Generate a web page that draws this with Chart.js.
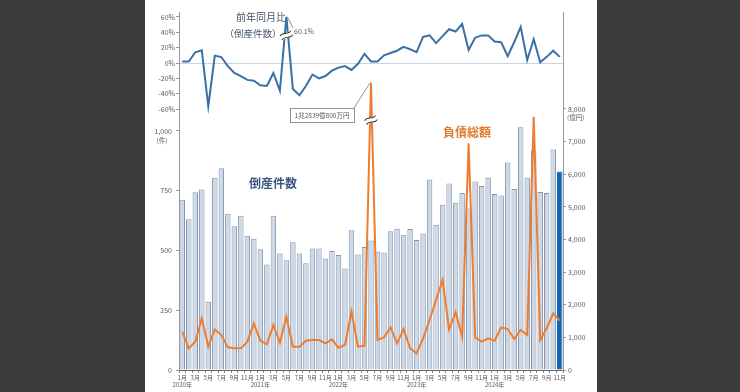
<!DOCTYPE html>
<html>
<head>
<meta charset="utf-8">
<script src="https://cdn.jsdelivr.net/npm/chart.js@4.4.0/dist/chart.umd.min.js"></script>
<style>
html,body{margin:0;padding:0;background:#3c3c3c;}
#panel{position:absolute;left:145px;top:0;width:452px;height:392px;background:#fff;}
</style>
</head>
<body>
<div id="panel"><canvas id="chart" width="452" height="392"></canvas></div>
<script>
const years=["2020年","2021年","2022年","2023年","2024年"];
const months=["1月","2月","3月","4月","5月","6月","7月","8月","9月","10月","11月","12月"];
const monthsInLastYear=11;

// 倒産件数 (件)
const counts=[712,631,743,755,285,804,844,654,601,645,562,549,
  505,441,645,487,459,534,487,446,508,508,466,498,
  481,425,584,483,514,542,495,491,580,591,566,590,
  544,571,797,608,691,780,700,740,675,788,770,804,
  736,730,868,757,1015,804,918,744,740,922,830];
// 負債総額 (億円) 2022年6月 is drawn shortened (actual 1兆2839億800万円)
const debt=[1174,664,868,1583,715,1246,1072,694,664,664,868,1430,
  899,786,1379,837,1634,715,715,899,919,919,817,940,
  684,766,1787,715,740,8800,919,1001,1307,817,1256,664,
  511,970,1532,2145,2758,1246,1767,1021,6950,1000,868,970,
  899,1307,1256,950,1226,1072,7760,919,1277,1736,1511];
// 前年同月比 (倒産件数) %
const yoy=[2,2,14,16.5,-56.5,9.6,7.8,-4,-13,-17,-22,-23,
  -29,-30,-13,-36,60.1,-34,-42,-30,-15,-20,-17,-10,
  -6,-4,-9,-1,12,2,2,10,13,16,21,18,
  14,34,36,26,35,44,41,51,17,33,36,36,
  28,27,9,27,47,4,31,1,8,16,8];

const yoyTicks=[-60,-40,-20,0,20,40,60];
const countTicks=[0,250,500,750,1000];
const debtTicks=[0,1000,2000,3000,4000,5000,6000,7000,8000];

const labels=[];
years.forEach((y,yi)=>{
    months.forEach((m,mi)=>{
        if(yi===years.length-1 && mi>=monthsInLastYear) return;
        labels.push(y+m);
    });
});

const FONT='"Noto Sans CJK JP","Noto Sans",sans-serif';
const GRAY='#595959';

function tickLabel(i){
    const m=i%12;
    if(m%2===1) return "";
    if(m===0) return [months[m],years[Math.floor(i/12)]];
    return months[m];
}

function breakMark(ctx,x,y){
    ctx.save();
    ctx.translate(x,y);
    ctx.rotate(-0.45);
    ctx.fillStyle="#fff";
    ctx.fillRect(-6,-2.5,12,5);
    ctx.strokeStyle="#333";
    ctx.lineWidth=1;
    [-2.2,2.2].forEach(o=>{
        ctx.beginPath();
        ctx.moveTo(-6,o);
        ctx.bezierCurveTo(-2,o-3,2,o+3,6,o);
        ctx.stroke();
    });
    ctx.restore();
}

const notes={
    id:"notes",
    afterDatasetsDraw(chart){
        const {ctx,scales}=chart;
        const x=scales.x, yY=scales.yYoy, yC=scales.yCount, yA=scales.yAmt;
        ctx.save();
        ctx.textBaseline="middle";

        // break marks
        breakMark(ctx,x.getPixelForValue(16),yY.getPixelForValue(36));
        breakMark(ctx,x.getPixelForValue(29),yA.getPixelForValue(7660));

        // titles
        ctx.fillStyle="#44546a";
        ctx.textAlign="center";
        ctx.font="10px "+FONT;
        ctx.fillText("前年同月比",116,17);
        ctx.font="9.5px "+FONT;
        ctx.fillText("（倒産件数）",108,33);

        ctx.font="bold 12px "+FONT;
        ctx.fillStyle="#3b5680";
        ctx.fillText("倒産件数",128,183);
        ctx.fillStyle="#e07b2e";
        ctx.fillText("負債総額",322,132);

        // 60.1% label
        const px16=x.getPixelForValue(16), py16=yY.getPixelForValue(yoy[16]);
        ctx.strokeStyle="#777";
        ctx.lineWidth=0.8;
        ctx.beginPath();
        ctx.moveTo(px16+1,py16);
        ctx.lineTo(148,28);
        ctx.stroke();
        ctx.fillStyle=GRAY;
        ctx.textAlign="left";
        ctx.font="7px "+FONT;
        ctx.fillText("60.1%",149,31);

        // debt annotation box
        const px29=x.getPixelForValue(29), py29=yA.getPixelForValue(debt[29]);
        ctx.beginPath();
        ctx.moveTo(209,108);
        ctx.lineTo(px29-1,py29);
        ctx.stroke();
        ctx.fillStyle="#fff";
        ctx.fillRect(145,108,64,14);
        ctx.strokeRect(145.5,108.5,64,14);
        ctx.fillStyle=GRAY;
        ctx.textAlign="center";
        ctx.font="6.5px "+FONT;
        ctx.fillText("1兆2839億800万円",177,115.5);

        // units
        ctx.font="6.5px "+FONT;
        ctx.fillText("(件)",17,yC.getPixelForValue(1000)+10);
        ctx.textAlign="left";
        ctx.fillText("(億円)",422,yA.getPixelForValue(8000)+9);
        ctx.restore();
    }
};

const tickFont={family:FONT,size:7};

const chart=new Chart(document.getElementById("chart"),{
    type:"bar",
    data:{
        labels:labels,
        datasets:[
            {
                type:"line",
                data:yoy,
                yAxisID:"yYoy",
                borderColor:"#3a70a8",
                borderWidth:2,
                pointRadius:0,
                order:1
            },
            {
                type:"line",
                data:debt,
                yAxisID:"yAmt",
                borderColor:"#ed7d31",
                borderWidth:2,
                pointRadius:0,
                order:2
            },
            {
                data:counts,
                yAxisID:"yCount",
                backgroundColor:ctx=>ctx.dataIndex===counts.length-1?"#1267b4":"#cfd9e5",
                borderColor:ctx=>ctx.dataIndex===counts.length-1?"#1267b4":"#8496b0",
                borderWidth:1,
                barPercentage:0.84,
                categoryPercentage:1,
                order:3
            }
        ]
    },
    options:{
        responsive:false,
        animation:false,
        devicePixelRatio:1,
        layout:{padding:{top:12,left:0,right:0,bottom:0}},
        plugins:{legend:{display:false},tooltip:{enabled:false}},
        scales:{
            x:{
                offset:true,
                border:{color:"#666",width:1},
                grid:{drawOnChartArea:false,offset:true,tickLength:3,color:"#888"},
                ticks:{
                    autoSkip:false,maxRotation:0,minRotation:0,padding:1,
                    color:GRAY,font:{family:FONT,size:6},
                    callback:(v,i)=>tickLabel(i)
                },
                afterFit:s=>{s.height=22;}
            },
            yCount:{
                position:"left",
                stack:"left",
                stackWeight:252,
                min:0,
                max:1054,
                border:{color:"#999",width:1},
                grid:{drawOnChartArea:false,tickLength:3,color:"#999"},
                ticks:{autoSkip:false,color:GRAY,font:tickFont,padding:4,
                    callback:v=>v.toLocaleString("en-US")},
                afterBuildTicks:s=>{s.ticks=countTicks.map(v=>({value:v}));},
                afterFit:s=>{s.width=34;}
            },
            yYoy:{
                position:"left",
                stack:"left",
                stackWeight:106,
                min:-71.7,
                max:66.5,
                border:{color:"#999",width:1},
                grid:{
                    color:c=>c.tick && c.tick.value===0?"#c8d4e0":"rgba(0,0,0,0)",
                    tickColor:"#999",
                    tickLength:3
                },
                ticks:{autoSkip:false,color:GRAY,font:tickFont,padding:1,callback:v=>v+"%"},
                afterBuildTicks:s=>{s.ticks=yoyTicks.map(v=>({value:v}));},
                afterFit:s=>{s.width=34;}
            },
            yAmt:{
                position:"right",
                min:0,
                max:10973,
                border:{color:"#999",width:1},
                grid:{drawOnChartArea:false,tickLength:3,color:"#999"},
                ticks:{autoSkip:false,color:GRAY,font:tickFont,padding:2,
                    callback:v=>v.toLocaleString("en-US")},
                afterBuildTicks:s=>{s.ticks=debtTicks.map(v=>({value:v}));},
                afterFit:s=>{s.width=34;}
            }
        }
    },
    plugins:[notes]
});
</script>
</body>
</html>
